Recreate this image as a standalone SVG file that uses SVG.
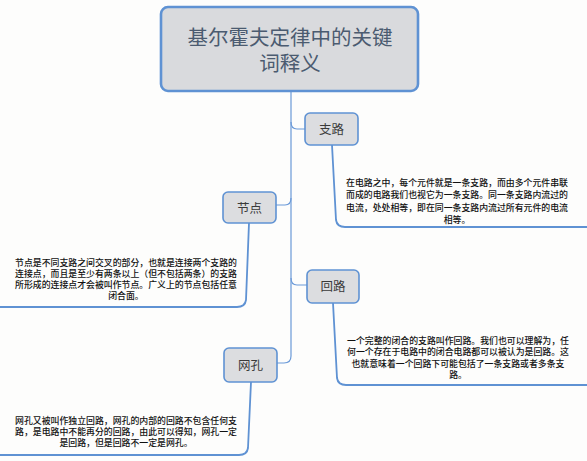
<svg xmlns="http://www.w3.org/2000/svg" width="587" height="461" viewBox="0 0 587 461">
<defs>
<style>
.bg{fill:#fdfdfc}
.box{fill:#dcdde0;stroke:#5f92d3;stroke-width:1.6}
.tbox{fill:#d9dadd;stroke:#5f92d3;stroke-width:2.6}
.ttl{font-family:"Noto Sans CJK SC","Noto Sans",sans-serif;font-size:20.5px;fill:#4b5b70;text-anchor:middle}
.lbl{font-family:"Noto Sans CJK SC","Noto Sans",sans-serif;font-size:12.5px;fill:#3a3a3a;text-anchor:middle}
.txt{font-family:"Noto Sans CJK SC","Noto Sans",sans-serif;font-size:8.9px;font-weight:500;fill:#111;text-anchor:middle}
.ln{fill:none;stroke:#6b9ad8;stroke-width:1.2}
.ul{fill:none;stroke:#5f92d3;stroke-width:1.8}
</style>
</defs>
<rect class="bg" x="0" y="0" width="587" height="461"/>
<g id="connectors">
<path class="ln" d="M291,91 L291,356 Q291,363 284,363 L277,363"/>
<path class="ln" d="M291,122 Q291,129 297,129 L305,129"/>
<path class="ln" d="M291,198 Q291,205 285,205 L276,205"/>
<path class="ln" d="M291,278 Q291,285 297,285 L307,285"/>
<path class="ul" d="M332,145 L336,220 Q337,227 345,227 L587,227"/>
<path class="ul" d="M249,223 L246,300 Q245,307 237,307 L0,307"/>
<path class="ul" d="M333,303 L337,378 Q338,385 346,385 L587,385"/>
<path class="ul" d="M251,382 L248,448 Q247,455 239,455 L0,455"/>
</g>
<g id="title">
<rect class="tbox" x="161" y="7" width="257" height="84" rx="7"/>
<text class="ttl" x="290" y="45">基尔霍夫定律中的关键</text>
<text class="ttl" x="290" y="71">词释义</text>
</g>
<g id="zhilu">
<rect class="box" x="305" y="113" width="53" height="32" rx="5"/>
<text class="lbl" x="331.5" y="134">支路</text>
<text class="txt" x="457" y="185.5">在电路之中，每个元件就是一条支路，而由多个元件串联</text>
<text class="txt" x="457" y="198">而成的电路我们也视它为一条支路。同一条支路内流过的</text>
<text class="txt" x="457" y="210.5">电流，处处相等，即在同一条支路内流过所有元件的电流</text>
<text class="txt" x="457" y="223">相等。</text>
</g>
<g id="jiedian">
<rect class="box" x="223" y="192" width="53" height="31" rx="5"/>
<text class="lbl" x="249.5" y="212.5">节点</text>
<text class="txt" x="126" y="265.5">节点是不同支路之间交叉的部分，也就是连接两个支路的</text>
<text class="txt" x="126" y="276.5">连接点，而且是至少有两条以上（但不包括两条）的支路</text>
<text class="txt" x="126" y="287.5">所形成的连接点才会被叫作节点。广义上的节点包括任意</text>
<text class="txt" x="126" y="298.5">闭合面。</text>
</g>
<g id="huilu">
<rect class="box" x="307" y="270" width="52" height="33" rx="5"/>
<text class="lbl" x="333" y="290.5">回路</text>
<text class="txt" x="458" y="343.5">一个完整的闭合的支路叫作回路。我们也可以理解为，任</text>
<text class="txt" x="458" y="355">何一个存在于电路中的闭合电路都可以被认为是回路。这</text>
<text class="txt" x="458" y="366.5">也就意味着一个回路下可能包括了一条支路或者多条支</text>
<text class="txt" x="458" y="378">路。</text>
</g>
<g id="wangkong">
<rect class="box" x="224" y="348" width="53" height="34" rx="5"/>
<text class="lbl" x="250.5" y="369.5">网孔</text>
<text class="txt" x="126" y="423.5">网孔又被叫作独立回路，网孔的内部的回路不包含任何支</text>
<text class="txt" x="126" y="434.5">路，是电路中不能再分的回路，由此可以得知，网孔一定</text>
<text class="txt" x="126" y="445.5">是回路，但是回路不一定是网孔。</text>
</g>
</svg>
